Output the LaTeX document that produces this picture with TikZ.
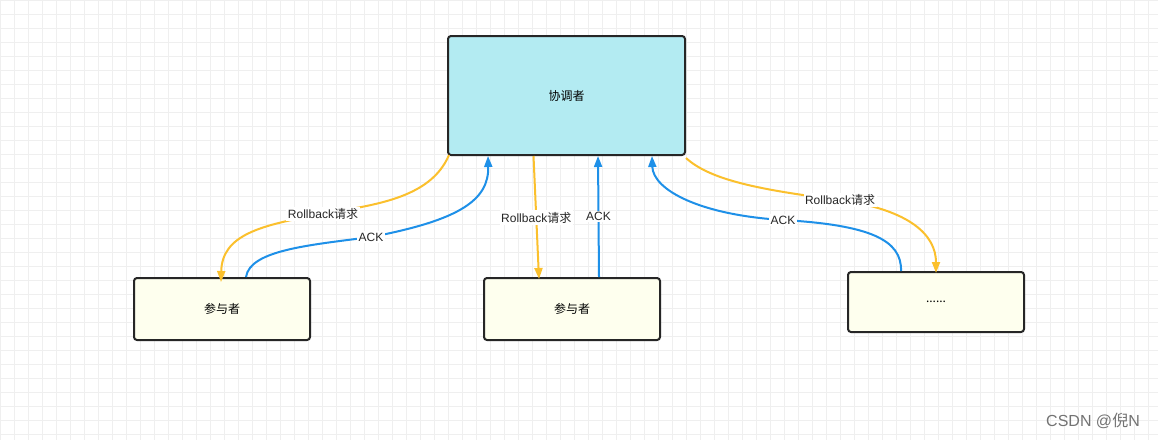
\documentclass[tikz,border=0pt]{standalone}
\usepackage{fontspec}
\setmainfont{Liberation Sans}
\newfontfamily\cjk{Noto Sans CJK SC}
\usetikzlibrary{arrows.meta}
\definecolor{cbox}{HTML}{B3EBF2}
\definecolor{pbox}{HTML}{FEFFEE}
\definecolor{orng}{HTML}{FBC02D}
\definecolor{blu}{HTML}{1E90E8}
\definecolor{gridc}{HTML}{EFEFEF}
\tikzset{
 box/.style={draw=black!85,line width=2pt,rounded corners=3pt,font=\cjk\fontsize{12}{14}\selectfont},
 orarr/.style={draw=orng,line width=2pt,-{Triangle[length=11pt,width=8pt]}},
 blarr/.style={draw=blu,line width=2pt,-{Triangle[length=11pt,width=8pt]}},
 lbl/.style={fill=white,inner sep=1.5pt,font=\fontsize{12}{14}\selectfont,text=black!85}
}
\begin{document}
\begin{tikzpicture}[x=1pt,y=-1pt]
\useasboundingbox (0,0) rectangle (1158,440);
\fill[white] (0,0) rectangle (1158,440);
\foreach \x in {0,14,...,1158} \draw[gridc,line width=0.6pt] (\x,0) -- (\x,440);
\foreach \y in {0,14,...,440} \draw[gridc,line width=0.6pt] (0,\y) -- (1158,\y);
\node[box,fill=cbox,minimum width=237pt,minimum height=119pt] (c) at (566.5,95.5) {协调者};
\node[box,fill=pbox,minimum width=176pt,minimum height=62pt] (p1) at (222,309) {参与者};
\node[box,fill=pbox,minimum width=176pt,minimum height=62pt] (p2) at (572,309) {参与者};
\node[box,fill=pbox,minimum width=176pt,minimum height=60pt] (p3) at (936,302) {......};
% left
\coordinate (a1) at (c.south west);
\coordinate (a2) at ([xshift=88pt]p1.north west);
\coordinate (b1) at ([xshift=113pt]p1.north west);
\coordinate (b2) at ([xshift=41pt]c.south west);
\draw[orarr] ([xshift=2pt,yshift=1pt]a1) .. controls (430,200) and (370,205) .. (323,214) node[lbl]{Rollback{\cjk 请求}} .. controls (260,225) and (222,235) .. ([yshift=-5pt]a2);
\draw[blarr] (b1) .. controls (250,250) and (310,245) .. (371,237) node[lbl]{ACK} .. controls (460,220) and (489,200) .. (b2);
% middle
\draw[orarr] ([xshift=-33pt]c.south) -- node[lbl,pos=0.5]{Rollback{\cjk 请求}} ([xshift=-33pt,yshift=-2pt]p2.north);
\draw[blarr] ([xshift=27pt]p2.north) -- node[lbl,pos=0.5]{ACK} ([xshift=151pt]c.south west);
% right
\draw[blarr] ([xshift=54pt]p3.north west) .. controls (902,240) and (870,225) .. (783,220) node[lbl]{ACK} .. controls (700,215) and (653,190) .. ([xshift=205pt]c.south west);
\draw[orarr] ([yshift=-2pt]c.south east) .. controls (710,180) and (760,190) .. (840,200) node[lbl]{Rollback{\cjk 请求}} .. controls (910,210) and (936,235) .. ([yshift=-2pt]p3.north);
\node[text=black!55,font=\fontsize{16}{18}\selectfont] (wm) at (1093,421) {CSDN @{\cjk 倪}N};
\end{tikzpicture}
\end{document}
